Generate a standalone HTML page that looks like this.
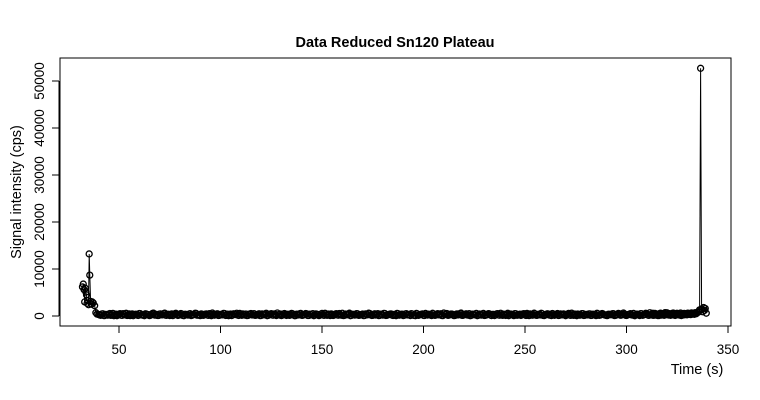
<!DOCTYPE html>
<html><head><meta charset="utf-8"><style>
body{margin:0;background:#fff;}
svg{display:block;font-family:"Liberation Sans",Arial,sans-serif;}
</style></head><body>
<svg id="chart" width="760" height="400" viewBox="0 0 760 400">
<rect x="0" y="0" width="760" height="400" fill="#fff"/>
<text x="395" y="47" text-anchor="middle" font-size="14.5" font-weight="bold">Data Reduced Sn120 Plateau</text>
<rect x="60" y="58" width="671" height="268" fill="none" stroke="#000" stroke-width="1"/>
<text x="697" y="374" text-anchor="middle" font-size="14.5">Time (s)</text>
<text transform="translate(21,192) rotate(-90)" text-anchor="middle" font-size="14.5">Signal intensity (cps)</text>
<g id="axes"></g>
<g id="marks"></g>
</svg>
<script>
const xTicks=[50,100,150,200,250,300,350];
const yTicks=[0,10000,20000,30000,40000,50000];
const startTimes=[32,32.4,32.8,33.1,33.4,33.7,34,34.3,34.6,35,35.3,35.6,36,36.4,36.8,37.3,38,38.6,39.2];
const startValues=[6200,6800,5600,3000,5900,5100,4500,2700,3300,2400,13200,8700,3100,2500,3000,2800,2200,700,400];
const baseStart=40;
const baseValues=[
320,150,480,90,260,410,130,560,220,70,390,180,510,240,100,450,300,60,380,170,
520,210,140,470,280,80,360,600,190,110,430,250,500,160,330,90,440,230,580,120,
270,400,60,350,190,490,140,310,550,220,80,380,260,460,130,290,620,170,410,100,
340,240,520,150,70,430,200,360,590,120,280,450,180,90,390,530,230,140,310,480,
110,260,410,60,350,500,170,290,640,200,90,420,250,370,130,560,220,80,330,470,
150,280,520,100,390,240,60,450,310,180,540,130,270,420,90,360,210,490,160,300,
580,120,250,440,70,380,200,510,150,290,430,100,340,600,230,130,470,270,80,400,
190,520,140,310,460,110,250,560,170,370,90,420,220,330,500,140,60,450,260,380,
120,540,200,300,90,430,170,490,250,110,620,340,150,270,410,80,360,230,520,130,
290,470,190,70,400,260,560,150,320,440,100,240,510,180,350,90,460,210,590,130,
280,380,60,430,230,500,160,310,120,450,270,540,80,370,200,420,140,330,570,110,
260,480,190,90,400,310,520,150,240,440,70,360,210,600,130,290,410,170,500,100,
350,230,460,140,280,80,430,190,530,250,120,380,300,470,90,210,560,160,340,420,
110,270,490,200,60,390,240,510,150,320,450,130,280,580,180,360,90,430,260,700,
330,500,220,620,180,410,260,90,470,300,550
];
const baseStartB=40.5;
const baseValuesB=[
210,430,90,350,170,520,280,60,400,240,490,130,310,570,190,80,440,260,360,120,
500,230,70,410,290,150,540,200,340,100,460,250,610,140,380,220,80,470,300,180,
530,110,360,250,420,90,310,580,160,270,440,130,390,210,500,70,340,260,470,150,
290,560,120,400,230,90,480,310,180,550,140,260,420,100,370,220,510,160,300,80,
450,240,590,130,350,200,460,90,280,410,170,530,120,330,250,480,60,390,220,560,
140,310,440,100,270,500,190,360,80,420,230,570,150,300,460,110,380,240,520,170,
90,410,280,600,130,350,210,470,160,290,80,440,250,530,120,370,200,490,140,310,
560,100,260,420,180,340,70,480,230,390,150,510,270,90,430,200,550,130,320,460,
110,280,400,190,580,140,360,240,470,80,300,520,170,410,230,100,450,290,620,150,
340,210,490,120,380,260,60,430,180,540,140,300,460,90,350,220,510,160,280,400,
120,570,230,330,80,470,190,390,250,500,110,310,440,170,600,140,360,230,480,90,
270,420,200,530,150,320,100,460,250,380,180,560,130,290,410,70,350,220,500,160,
310,450,110,390,240,590,140,280,430,190,80,370,260,510,120,330,470,200,640,150,
300,420,230,540,170,360,90,480,250,580,200,690,310,450,280
];
const tailStart=312.25;
const tailValues=[
240,480,130,390,560,210,320,90,450,270,610,180,350,500,140,420,260,690,310,200,
470,150,380,540,230,430,120,360,580,260,490,180,640,300,420,210,550,330,470,250,
600,380,520,290,660,410,560,350,720,480
];
const endTimes=[335,335.6,336,336.5,337,337.5,338,338.4,338.8,339.3];
const endValues=[700,900,1300,52700,1500,900,1800,1200,1600,600];

const XA=50,XPX=119,XB=350,XPX2=728;
const Y0=316,Y50=81;
function sx(t){return XPX+(t-XA)*(XPX2-XPX)/(XB-XA);}
function sy(v){return Y0+(v)*(Y50-Y0)/50000;}
const NS="http://www.w3.org/2000/svg";
const axes=document.getElementById('axes');
const marks=document.getElementById('marks');
function mk(tag,attrs,parent){const e=document.createElementNS(NS,tag);for(const k in attrs)e.setAttribute(k,attrs[k]);parent.appendChild(e);return e;}

const xl=mk('line',{x1:sx(xTicks[0]),x2:sx(xTicks[xTicks.length-1]),y1:326,y2:326,stroke:'#000'},axes);


xTicks.forEach(t=>{
  const tk=mk('line',{x1:sx(t),x2:sx(t),y1:326,y2:333,stroke:'#000'},axes);
  
  
  const lb=mk('text',{x:sx(t),y:354,'text-anchor':'middle','font-size':13.5},axes);
  lb.textContent=t;
  
  
});
const yl=mk('line',{x1:59,x2:59,y1:sy(yTicks[0]),y2:sy(yTicks[yTicks.length-1]),stroke:'#000'},axes);


yTicks.forEach(v=>{
  const tk=mk('line',{x1:52,x2:59,y1:sy(v),y2:sy(v),stroke:'#000'},axes);
  
  
  const lb=mk('text',{transform:`translate(44,${sy(v)}) rotate(-90)`,'text-anchor':'middle','font-size':13.5},axes);
  lb.textContent=v;
  
  
});

const pts=[];
startTimes.forEach((t,i)=>pts.push([t,startValues[i]]));
baseValues.forEach((v,i)=>{const t=baseStart+i; if(t<=334.5) pts.push([t,v]);});
baseValuesB.forEach((v,i)=>{const t=baseStartB+i; if(t<=334.5) pts.push([t,v]);});
tailValues.forEach((v,i)=>pts.push([tailStart+i*0.45,v]));
endTimes.forEach((t,i)=>pts.push([t,endValues[i]]));
pts.sort((a,b)=>a[0]-b[0]);

const pl=mk('polyline',{points:pts.map(p=>sx(p[0]).toFixed(1)+','+sy(p[1]).toFixed(1)).join(' '),fill:'none',stroke:'#000','stroke-width':1},marks);


pts.forEach(p=>{
  const c=mk('circle',{cx:sx(p[0]),cy:sy(p[1]),r:3,fill:'none',stroke:'#000','stroke-width':1.3},marks);
  
  
});
</script>
</body></html>
